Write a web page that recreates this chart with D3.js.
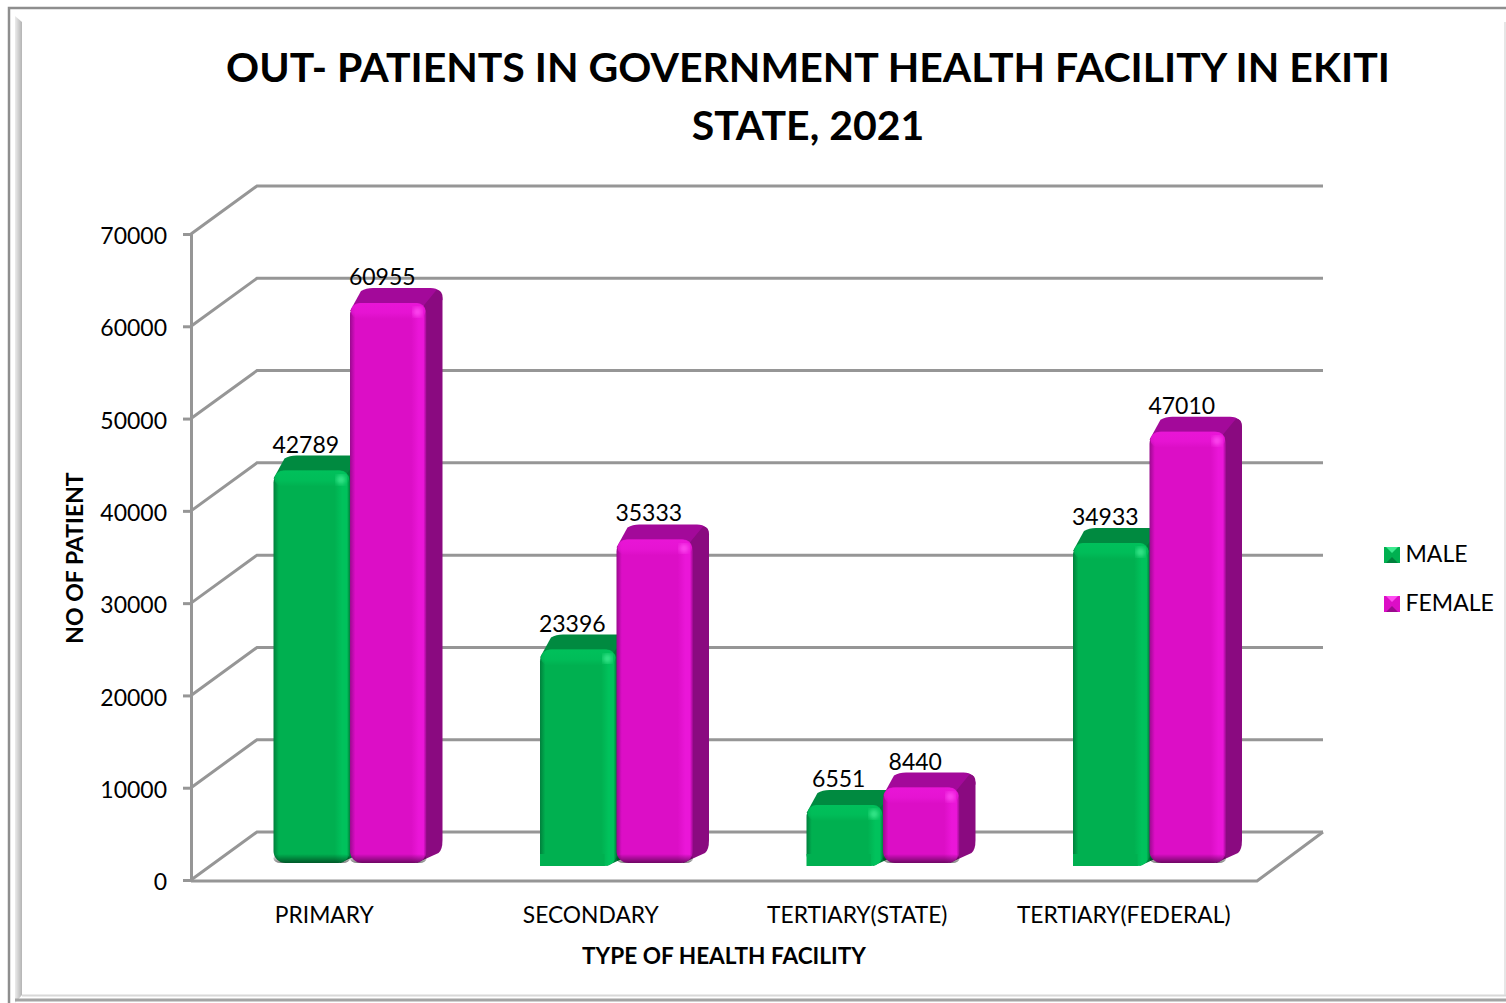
<!DOCTYPE html>
<html>
<head>
<meta charset="utf-8">
<style>
  html, body { margin: 0; padding: 0; background: #fff; }
  svg { display: block; }
  text { font-family: Lato, "Open Sans", sans-serif; fill: #000; }
</style>
<script src="https://cdn.jsdelivr.net/npm/d3@7"></script>
</head>
<body>
<div class="chart"></div>
<script>
var categories = ['PRIMARY', 'SECONDARY', 'TERTIARY(STATE)', 'TERTIARY(FEDERAL)'];
var seriesNames = ['MALE', 'FEMALE'];
var maleValues = [42789, 23396, 6551, 34933];
var femaleValues = [60955, 35333, 8440, 47010];
var yTicks = [0, 10000, 20000, 30000, 40000, 50000, 60000, 70000];
var titleLines = ['OUT- PATIENTS IN GOVERNMENT HEALTH FACILITY IN EKITI', 'STATE, 2021'];

var width = 1506, height = 1003;
var plot = { left: 191, right: 1257, top: 234, bottom: 880 };
var wall = { dx: 66, dy: -48 };   // floor depth, front edge to back wall
var barShift = { dx: 82.5, dy: -17 };
var barDepth = { dx: 16, dy: -15 };
var gridColor = '#969696';

var colors = {
  MALE:   { dark: '#00803c', base: '#00b050', light: '#00c25c', top: '#008a40', side: '#007a38', glow: '#3dea8f' },
  FEMALE: { dark: '#9a0a8e', base: '#dc0ec6', light: '#ea16d8', top: '#a3099a', side: '#8a0a80', glow: '#ff4cf2' }
};

var svg = d3.select('.chart').append('svg')
    .attr('width', width)
    .attr('height', height);

var defs = svg.append('defs');
defs.append('filter').attr('id', 'soft')
    .append('feGaussianBlur').attr('stdDeviation', 2.5);

seriesNames.forEach(function(name) {
  var c = colors[name];
  var grad = defs.append('linearGradient').attr('id', 'front' + name);
  [[0, c.dark], [0.07, c.base], [0.8, c.base], [0.9, c.light], [0.96, c.light], [1, c.dark]].forEach(function(s) {
    grad.append('stop').attr('offset', s[0]).attr('stop-color', s[1]);
  });
  var topGrad = defs.append('linearGradient').attr('id', 'edge' + name)
      .attr('x1', 0).attr('x2', 0).attr('y1', 0).attr('y2', 1);
  topGrad.append('stop').attr('offset', 0).attr('stop-color', c.light).attr('stop-opacity', 0.9);
  topGrad.append('stop').attr('offset', 0.6).attr('stop-color', c.light).attr('stop-opacity', 0.7);
  topGrad.append('stop').attr('offset', 1).attr('stop-color', c.light).attr('stop-opacity', 0);
});
var shade = defs.append('linearGradient').attr('id', 'bottomShade')
    .attr('x1', 0).attr('x2', 0).attr('y1', 0).attr('y2', 1);
shade.append('stop').attr('offset', 0).attr('stop-color', '#000').attr('stop-opacity', 0);
shade.append('stop').attr('offset', 1).attr('stop-color', '#000').attr('stop-opacity', 0.5);

// picture frame
var bevel = defs.append('linearGradient').attr('id', 'bevelLeft');
bevel.append('stop').attr('offset', 0).attr('stop-color', '#ececec');
bevel.append('stop').attr('offset', 1).attr('stop-color', '#b4b4b4');
svg.append('path')
    .attr('d', 'M15,16 L22,22 L22,995 L15,1003 Z')
    .attr('fill', 'url(#bevelLeft)');
svg.append('path')
    .attr('d', 'M9,1003 L9,8 L1506,8')
    .attr('fill', 'none').attr('stroke', '#8e8e8e').attr('stroke-width', 2.5);
svg.append('line').attr('x1', 22).attr('x2', 1506).attr('y1', 995.5).attr('y2', 995.5)
    .attr('stroke', '#d8d8d8').attr('stroke-width', 2);
svg.append('line').attr('x1', 15).attr('x2', 1506).attr('y1', 1000).attr('y2', 1000)
    .attr('stroke', '#a4a4a4').attr('stroke-width', 3);
svg.append('line').attr('x1', 1505).attr('x2', 1505).attr('y1', 22).attr('y2', 995)
    .attr('stroke', '#dedede').attr('stroke-width', 1.5);

var y = d3.scaleLinear().domain([0, 70000]).range([plot.bottom, plot.top]);
var x = d3.scaleBand().domain(categories).range([plot.left, plot.right]);
var x1 = d3.scaleBand().domain(seriesNames).range([0, 153]);

// back wall gridlines and their run down the side wall
var grid = svg.append('g').attr('fill', 'none').attr('stroke', gridColor).attr('stroke-width', 3);
grid.selectAll('path').data(yTicks).enter().append('path')
    .attr('d', function(d) {
      return 'M' + plot.left + ',' + y(d) +
             'L' + (plot.left + wall.dx) + ',' + (y(d) + wall.dy) +
             'L' + (plot.right + wall.dx) + ',' + (y(d) + wall.dy);
    });
grid.append('path')
    .attr('d', 'M' + plot.left + ',' + (plot.bottom + 1) + 'L' + plot.right + ',' + (plot.bottom + 1) +
               'L' + (plot.right + wall.dx) + ',' + (plot.bottom + wall.dy));

var yAxis = d3.axisLeft(y)
    .tickValues(yTicks)
    .tickFormat(d3.format('d'))
    .tickSize(8)
    .tickPadding(16);
var yG = svg.append('g')
    .attr('transform', 'translate(' + plot.left + ',0)')
    .call(yAxis);
yG.select('.domain').attr('stroke', gridColor).attr('stroke-width', 3);
yG.selectAll('.tick line').attr('stroke', gridColor).attr('stroke-width', 3);
yG.selectAll('.tick text').style('font-size', '23px').attr('dy', '0.42em');

var xAxis = d3.axisBottom(x).tickSize(0).tickPadding(27);
var xG = svg.append('g')
    .attr('transform', 'translate(0,' + plot.bottom + ')')
    .call(xAxis);
xG.select('.domain').remove();
xG.selectAll('.tick text').style('font-size', '22.8px');

function barShape(g, name, value, catIndex) {
  var c = colors[name];
  var left = x(categories[catIndex]) + barShift.dx + x1(name);
  var w = x1.bandwidth();
  var base = y(0) + barShift.dy;
  var top = y(value) + barShift.dy + 2.5;
  var right = left + w;
  var r = 12;
  var dx = barDepth.dx, dy = barDepth.dy;

  // the male bars after the first one sit a touch lower, with a square foot
  var squareFoot = name === 'MALE' && catIndex > 0;
  if (squareFoot) base += 3;

  // top face
  g.append('path')
      .attr('d', 'M' + left + ',' + (top + 8) +
                 'L' + (left + dx - 5) + ',' + (top + dy + 3) +
                 'Q' + (left + dx) + ',' + (top + dy) + ' ' + (left + dx + 7) + ',' + (top + dy) +
                 'L' + (right + dx - r) + ',' + (top + dy) +
                 'Q' + (right + dx) + ',' + (top + dy) + ' ' + (right + dx) + ',' + (top + dy + r) +
                 'L' + (right - r) + ',' + (top + r) +
                 'Z')
      .attr('fill', c.top);

  // side face
  g.append('path')
      .attr('d', 'M' + (right - 4) + ',' + (top + 4) +
                 'L' + (right + dx - 6) + ',' + (top + dy + 2) +
                 'Q' + (right + dx) + ',' + (top + dy + 2) + ' ' + (right + dx) + ',' + (top + dy + 10) +
                 'L' + (right + dx) + ',' + (base + dy - r + 4) +
                 'Q' + (right + dx) + ',' + (base + dy + 2) + ' ' + (right + dx - 4) + ',' + (base + dy + 5) +
                 'L' + (right - r + 2) + ',' + base +
                 'Z')
      .attr('fill', c.side);

  // front face
  g.append('rect')
      .attr('x', left).attr('y', top)
      .attr('width', w).attr('height', base - top)
      .attr('rx', r)
      .attr('fill', 'url(#front' + name + ')');
  if (squareFoot) {
    g.append('rect')
        .attr('x', left).attr('y', base - r)
        .attr('width', w - r).attr('height', r)
        .attr('fill', c.base);
  } else {
    g.append('rect')
        .attr('x', left).attr('y', base - 9)
        .attr('width', w).attr('height', 9)
        .attr('rx', 7)
        .attr('fill', 'url(#bottomShade)');
  }
  g.append('rect')
      .attr('x', left + 1).attr('y', top)
      .attr('width', w - 2).attr('height', 16)
      .attr('rx', 9)
      .attr('fill', 'url(#edge' + name + ')');
  g.append('circle')
      .attr('cx', right - 9).attr('cy', top + 9).attr('r', 4.5)
      .attr('fill', c.glow)
      .attr('filter', 'url(#soft)');

  // value label
  g.append('text')
      .attr('x', left + w / 2 - 6)
      .attr('y', top + dy - 3)
      .attr('text-anchor', 'middle')
      .style('font-size', '23px')
      .text(value);
}

var bars = svg.append('g');
categories.forEach(function(cat, i) {
  var g = bars.append('g');
  barShape(g, 'MALE', maleValues[i], i);
  barShape(g, 'FEMALE', femaleValues[i], i);
});

// title
svg.append('g').selectAll('text').data(titleLines).enter().append('text')
    .attr('x', 808)
    .attr('y', function(d, i) { return 81.5 + i * 58; })
    .attr('text-anchor', 'middle')
    .style('font-size', '41px')
    .style('font-weight', 'bold')
    .text(function(d) { return d; });

// text label for y axis
svg.append('text')
    .attr('transform', 'translate(83,558) rotate(-90)')
    .attr('text-anchor', 'middle')
    .style('font-size', '23px')
    .style('font-weight', 'bold')
    .text('NO OF PATIENT');

// text label for x axis
svg.append('text')
    .attr('x', 724)
    .attr('y', 964)
    .attr('text-anchor', 'middle')
    .style('font-size', '22.6px')
    .style('font-weight', 'bold')
    .text('TYPE OF HEALTH FACILITY');

// legend
var legendY = d3.scalePoint().domain(seriesNames).range([555, 604]);
var legend = svg.append('g').selectAll('g').data(seriesNames).enter().append('g')
    .attr('transform', function(d) { return 'translate(1384,' + legendY(d) + ')'; });
legend.append('rect')
    .attr('x', 0).attr('y', -8).attr('width', 16).attr('height', 16)
    .attr('fill', function(d) { return colors[d].base; });
legend.append('path')
    .attr('d', 'M2,-8L14,-8L8,-2Z')
    .attr('fill', function(d) { return colors[d].glow; });
legend.append('path')
    .attr('d', 'M2,8L14,8L8,2Z')
    .attr('fill', function(d) { return colors[d].dark; });
legend.append('text')
    .attr('x', 21.5)
    .attr('y', -1)
    .attr('dy', '0.36em')
    .style('font-size', '23px')
    .text(function(d) { return d; });
</script>
</body>
</html>
